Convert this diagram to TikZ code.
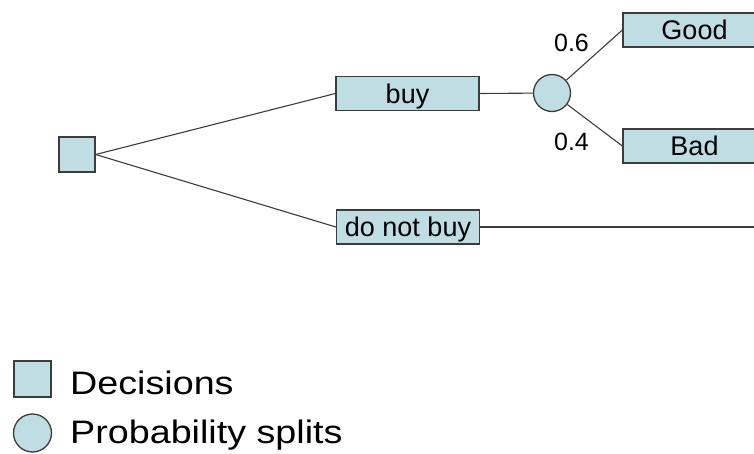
\documentclass[tikz,border=0pt]{standalone}
\usepackage{fontspec}
\setmainfont{Liberation Sans}
\usepackage{graphicx}
\definecolor{boxfill}{RGB}{191,221,227}
\definecolor{edge}{RGB}{60,60,60}
\begin{document}
\begin{tikzpicture}[x=1pt,y=-1pt,
  box/.style={draw=edge,line width=1.3pt,fill=boxfill,rectangle,minimum width=143pt,minimum height=34pt,inner sep=0pt,text depth=0pt,font=\fontsize{27}{30}\selectfont},
  decsq/.style={draw=edge,line width=1.3pt,fill=boxfill,rectangle,minimum width=36pt,minimum height=35pt,inner sep=0pt},
  chance/.style={draw=edge,line width=1.3pt,fill=boxfill,circle,minimum size=37pt,inner sep=0pt},
  conn/.style={draw=edge,line width=1.1pt},
  prob/.style={font=\fontsize{25}{28}\selectfont,inner sep=0pt},
  legtext/.style={font=\fontsize{32.5}{36}\selectfont,inner sep=0pt,anchor=base west}]
\useasboundingbox (0,0) rectangle (754,454);
\node[decsq] (sq) at (77,154.5) {};
\node[box] (buy) at (407.5,93.5) {buy};
\node[box] (dnb) at (408,227) {do not buy};
\node[chance] (c) at (552,93) {};
\node[box] (good) at (694.5,30) {Good};
\node[box] (bad) at (694.5,146) {Bad};
\coordinate (dnbend) at (770,227);
\draw[conn] (sq.east) -- (buy.west);
\draw[conn] (sq.east) -- (dnb.west);
\draw[conn] (buy.east) -- (c);
\draw[conn] (c) -- (good.west);
\draw[conn] (c) -- (bad.west);
\draw[conn] (dnb.east) -- (dnbend);
\node[prob] (p6) at (571.5,43) {0.6};
\node[prob] (p4) at (571.5,141.5) {0.4};
\node[decsq,minimum width=37pt,minimum height=36pt] (legsq) at (32.5,379) {};
\node[chance,minimum size=38pt] (legc) at (32.5,433) {};
\node[legtext] (legd) at (70,394) {\scalebox{1.16}[1]{Decisions}};
\node[legtext] (legp) at (70,443) {\scalebox{1.16}[1]{Probability splits}};
\end{tikzpicture}
\end{document}
